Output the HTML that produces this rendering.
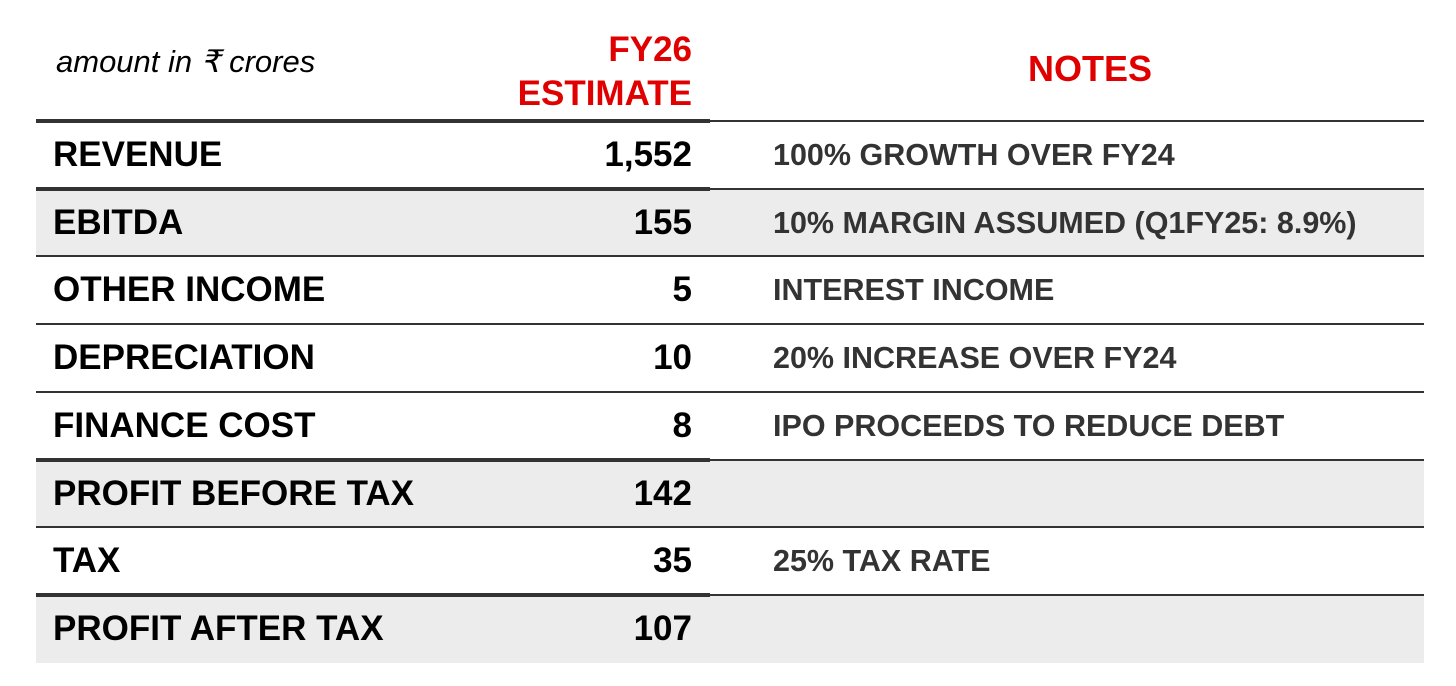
<!DOCTYPE html>
<html><head><meta charset="utf-8">
<style>
body{margin:0;width:1456px;height:686px;background:#fff;position:relative;overflow:hidden;font-family:"Liberation Sans",Arial,sans-serif}
.a{position:absolute}
.lbl{font-weight:bold;font-size:35px;color:#000;left:53px}
.val{font-weight:bold;font-size:35px;color:#000;right:764px;text-align:right}
.note{font-weight:bold;font-size:30.5px;color:#333;left:773px}
</style></head><body>
<div class="a" style="left:56px;top:44px;font-size:31px;font-style:italic;color:#000">amount in ₹ crores</div>
<div class="a" style="right:764px;top:28px;text-align:right;color:#e00000;font-weight:bold;font-size:35px;line-height:44px">FY26<br>ESTIMATE</div>
<div class="a" style="left:1000px;width:180px;top:48px;text-align:center;color:#e00000;font-weight:bold;font-size:36px">NOTES</div>
<div id="tbl"></div>
<script>
const labels=["REVENUE","EBITDA","OTHER INCOME","DEPRECIATION","FINANCE COST","PROFIT BEFORE TAX","TAX","PROFIT AFTER TAX"];
const values=["1,552","155","5","10","8","142","35","107"];
const notes=["100% GROWTH OVER FY24","10% MARGIN ASSUMED (Q1FY25: 8.9%)","INTEREST INCOME","20% INCREASE OVER FY24","IPO PROCEEDS TO REDUCE DEBT","","25% TAX RATE",""];
const shaded=[false,true,false,false,false,true,false,true];
const thick=[true,true,false,false,false,true,false,true];
const tbl=document.getElementById('tbl');
const top0=121,rh=67.7;
function mk(cls,style,txt,name){const d=document.createElement('div');d.className='a '+cls;d.style.cssText=style;d.textContent=txt||'';


tbl.appendChild(d);return d;}
labels.forEach((l,i)=>{
 const y=top0+i*rh;
 if(shaded[i]) mk('','left:36px;width:1388px;top:'+y+'px;height:'+rh+'px;background:#ececec','', 'row-shade');
 mk('','left:709px;width:715px;top:'+(y-1)+'px;height:2px;background:#333','', 'row-divider');
 mk('','left:36px;width:674px;top:'+(y-(thick[i]?2:1))+'px;height:'+(thick[i]?4:2)+'px;background:#333','', 'row-divider-left');
 mk('lbl','top:'+(y+14)+'px',l,'row-label');
 mk('val','top:'+(y+14)+'px',values[i],'row-value');
 if(notes[i]) mk('note','top:'+(y+17)+'px',notes[i],'row-note');
});
</script>
</body></html>
